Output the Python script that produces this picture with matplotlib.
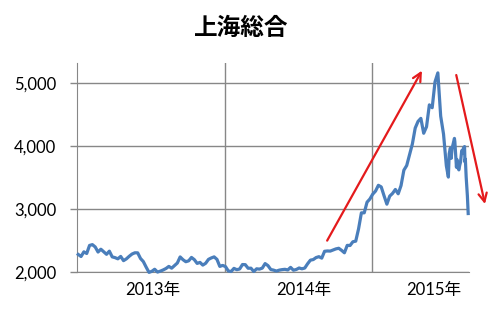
import numpy as np
import pandas as pd
import matplotlib
matplotlib.use('Agg')
import matplotlib.pyplot as plt
from matplotlib import transforms

plt.rcParams['font.family'] = ['Lato', 'Noto Sans CJK JP', 'DejaVu Sans']

# weekly closes (Fridays) 2013-01-04 .. 2015-06-26
values_2013 = [2276, 2243, 2317, 2291, 2419, 2432, 2395, 2314, 2359, 2318,
               2278, 2328, 2237, 2225, 2206, 2244, 2177, 2205, 2246, 2282,
               2302, 2301, 2211, 2162, 2073, 1990, 2007, 2040, 1995, 2010,
               2029, 2052, 2085, 2057, 2098, 2139, 2236, 2192, 2160, 2174,
               2228, 2193, 2133, 2149, 2106, 2135, 2197, 2220, 2237, 2197,
               2085, 2101]
values_2014 = [2083, 2013, 2004, 2054, 2033, 2044, 2115, 2113, 2056, 2057,
               2004, 2047, 2042, 2058, 2130, 2098, 2036, 2026, 2011, 2026,
               2034, 2039, 2029, 2070, 2025, 2036, 2060, 2047, 2059, 2127,
               2185, 2194, 2226, 2240, 2217, 2326, 2331, 2329, 2347, 2364,
               2374, 2341, 2302, 2420, 2418, 2478, 2487, 2683, 2938, 2938,
               3108, 3158]
values_2015 = [3235, 3285, 3376, 3351, 3210, 3076, 3204, 3247, 3310, 3241,
               3372, 3617, 3691, 3863, 4034, 4287, 4393, 4442, 4205, 4308,
               4657, 4611, 5023, 5166, 4478, 4193]

# denser points for the July-August 2015 swings
tail_dates = ['2015-07-03', '2015-07-08', '2015-07-10', '2015-07-13', '2015-07-15',
              '2015-07-17', '2015-07-23', '2015-07-24', '2015-07-28', '2015-07-29',
              '2015-07-31', '2015-08-03', '2015-08-05', '2015-08-07', '2015-08-10',
              '2015-08-12', '2015-08-14', '2015-08-17', '2015-08-18', '2015-08-19',
              '2015-08-21', '2015-08-24', '2015-08-26']
tail_values = [3687, 3507, 3877, 3970, 3805, 3957, 4123, 4070, 3663, 3789,
               3664, 3622, 3694, 3744, 3928, 3887, 3965, 3993, 3748, 3794,
               3508, 3209, 2927]

year_labels = ['2013年', '2014年', '2015年']
year_label_dates = ['2013-07-07', '2014-07-15', '2015-06-01']
y_ticks = [2000, 3000, 4000, 5000]

weekly_dates = pd.date_range('2013-01-04', '2015-06-26', freq='W-FRI')
dates = list(weekly_dates) + list(pd.to_datetime(tail_dates))
values = values_2013 + values_2014 + values_2015 + tail_values

blue = '#4A7EBB'
grid_gray = '#878787'
red = '#E41A1C'

fig = plt.figure(figsize=(5, 3.16), dpi=100)
ax = fig.add_axes([0.154, 0.140, 0.784, 0.660])

ax.plot(dates, values, color=blue, lw=2.3, clip_on=False, zorder=3,
        solid_joinstyle='round')

ax.set_ylim(2000, 5320)
ax.set_xlim(pd.Timestamp('2013-01-01'), pd.Timestamp('2015-08-28'))

# horizontal grid, ticks outward on the left
ax.set_yticks(y_ticks)
ax.set_yticklabels([f'{v:,}' for v in y_ticks], fontsize=12)
ax.yaxis.grid(True, color=grid_gray, lw=1)
ax.tick_params(axis='y', length=5, width=1, color=grid_gray, pad=10)

# vertical grid at year boundaries, year labels in between
ax.set_xticks([pd.Timestamp('2014-01-01'), pd.Timestamp('2015-01-01')])
ax.xaxis.grid(True, color=grid_gray, lw=1)
ax.tick_params(axis='x', length=0, labelbottom=False)
below = transforms.offset_copy(ax.transData, fig=fig, y=-10, units='dots')
for lab, d in zip(year_labels, year_label_dates):
    ax.text(pd.Timestamp(d), 2000, lab, transform=below,
            ha='center', va='top', fontsize=12, clip_on=False)

for side in ['top', 'right']:
    ax.spines[side].set_visible(False)
ax.spines['left'].set_color(grid_gray)
ax.spines['bottom'].set_color(grid_gray)
ax.set_axisbelow(True)

# red trend arrows
ax.annotate('', xy=(pd.Timestamp('2015-05-07'), 5240),
            xytext=(pd.Timestamp('2014-09-08'), 2457),
            arrowprops=dict(arrowstyle='->,head_length=0.6,head_width=0.3',
                            color=red, lw=1.6),
            annotation_clip=False)
ax.annotate('', xy=(pd.Timestamp('2015-10-08'), 3035),
            xytext=(pd.Timestamp('2015-07-26'), 5175),
            arrowprops=dict(arrowstyle='->,head_length=0.6,head_width=0.3',
                            color=red, lw=1.6),
            annotation_clip=False)

fig.text(0.483, 0.911, '上海総合', ha='center', va='center', fontsize=17,
         fontweight='bold', family=['Noto Sans CJK JP'])

fig.savefig('out.png', dpi=100)
